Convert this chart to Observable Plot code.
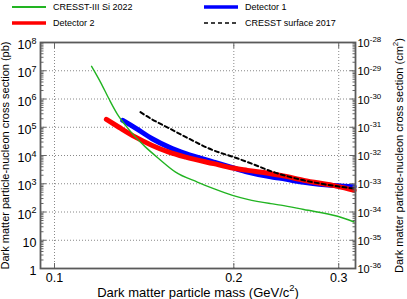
<!DOCTYPE html>
<html><head><meta charset="utf-8">
<script src="https://cdn.jsdelivr.net/npm/d3@7"></script>
<script src="https://cdn.jsdelivr.net/npm/@observablehq/plot@0.6"></script>
<style>
body{margin:0;background:#fff;font-family:"Liberation Sans",Arial,Helvetica,sans-serif;}
#legend{position:relative;width:407px;height:34px;font-size:9px;color:#000;}
.item{position:absolute;display:flex;align-items:center;height:12px;line-height:12px;white-space:nowrap;}
.item svg{display:block;}
#chart svg{display:block;}
</style></head><body>
<div id="legend"></div>
<div id="chart"></div>
<script>
// ---- data ----
const massGreen = [0.1154, 0.1195, 0.1234, 0.1274, 0.1316, 0.1368, 0.1422, 0.1497, 0.1597, 0.1737, 0.185, 0.199, 0.2109, 0.2307, 0.2398, 0.2621, 0.2987, 0.3184];
const xsecGreen = [1.44e7, 3.9e6, 1.02e6, 3.0e5, 1.16e5, 4.47e4, 1.98e4, 7.7e3, 2.59e3, 1.15e3, 671, 389, 281, 198, 175, 122, 70.5, 44.3];

const massDet1 = [0.1302, 0.1368, 0.1459, 0.1556, 0.1661, 0.185, 0.199, 0.2109, 0.2307, 0.2398, 0.2621, 0.2987, 0.3184];
const xsecDet1 = [1.74e5, 9.3e4, 3.93e4, 1.98e4, 1.16e4, 5.85e3, 3.7e3, 2.59e3, 1.75e3, 1.55e3, 1.12e3, 843, 777];

const massDet2 = [0.1222, 0.1283, 0.1368, 0.1459, 0.1556, 0.1661, 0.185, 0.199, 0.2109, 0.2307, 0.2398, 0.2621, 0.2987, 0.3184];
const xsecDet2 = [1.89e5, 1.0e5, 4.47e4, 2.27e4, 1.32e4, 8.77e3, 5.13e3, 3.59e3, 2.97e3, 2.27e3, 1.98e3, 1.32e3, 809, 584];

const massSurf = [0.1394, 0.1459, 0.1556, 0.165, 0.185, 0.2, 0.2109, 0.2352, 0.2621, 0.2987, 0.3184];
const xsecSurf = [3.42e5, 1.89e5, 9.3e4, 4.85e4, 1.51e4, 8.77e3, 5.85e3, 2.43e3, 1.32e3, 809, 671];

const seriesNames = ["CRESST-III Si 2022", "Detector 1", "Detector 2", "CRESST surface 2017"];
const xTicks = [0.1, 0.2, 0.3];
const yMajor = [1, 10, 100, 1e3, 1e4, 1e5, 1e6, 1e7, 1e8];
const yMinor = [];
for (let d = 0; d < 8; d++) for (let k = 2; k <= 9; k++) yMinor.push(k * Math.pow(10, d));

const xTitle = "Dark matter particle mass (GeV/c^2)";
const yTitleLeft = "Dark matter particle-nucleon cross section (pb)";
const yTitleRight = "Dark matter particle-nucleon cross section (cm^2)";

// ---- styles ----
const styles = {
  "CRESST-III Si 2022": {stroke: "#22b422", width: 1.4, legendWidth: 1.8, dash: null},
  "Detector 1": {stroke: "#0000ff", width: 5, legendWidth: 3.6, dash: null},
  "Detector 2": {stroke: "#ff0000", width: 5, legendWidth: 3.6, dash: null},
  "CRESST surface 2017": {stroke: "#000000", width: 2, legendWidth: 1.6, dash: "4,3"}
};

const rows = (ms, ss) => ms.map((m, i) => ({m, s: ss[i]}));
const green = rows(massGreen, xsecGreen);
const det1 = rows(massDet1, xsecDet1);
const det2 = rows(massDet2, xsecDet2);
const surf = rows(massSurf, xsecSurf);

// ---- legend ----
const legendPos = {
  "CRESST-III Si 2022": [12, 1],
  "Detector 2": [12, 17],
  "Detector 1": [204, 1],
  "CRESST surface 2017": [204, 17]
};
const legend = document.getElementById("legend");
for (const name of seriesNames) {
  const st = styles[name];
  const [lx, ly] = legendPos[name];
  const item = document.createElement("div");
  item.className = "item";
  item.style.left = lx + "px";
  item.style.top = ly + "px";
  item.innerHTML = `<svg width="34" height="12"><line x1="0" x2="34" y1="6" y2="6" stroke="${st.stroke}" stroke-width="${st.legendWidth}" ${st.dash ? `stroke-dasharray="${st.dash}"` : ""}/></svg><span style="margin-left:7px">${name}</span>`;
  legend.appendChild(item);
}

// ---- chart ----
const fmtLeft = v => v === 1 ? "1" : v === 10 ? "10" : "10^" + Math.round(Math.log10(v));
const fmtRight = v => "10^-" + (36 - Math.round(Math.log10(v)));
const gridStyle = {stroke: "#888", strokeOpacity: 1, strokeWidth: 1, strokeDasharray: "1,2"};
const tickColor = "#666";
const lineOpts = name => ({x: "m", y: "s", stroke: styles[name].stroke, strokeWidth: styles[name].width,
  strokeDasharray: styles[name].dash ?? undefined, curve: "monotone-x"});

const chart = Plot.plot({
  width: 407,
  height: 265,
  marginLeft: 40,
  marginRight: 52,
  marginTop: 8,
  marginBottom: 31,
  style: {fontFamily: "Liberation Sans, Arial, Helvetica, sans-serif", fontSize: "12px", background: "#fff", color: "#000", overflow: "visible"},
  x: {type: "log", domain: [0.09473, 0.3201], label: null},
  y: {type: "log", domain: [1, 1e8], label: null},
  marks: [
    Plot.gridX(xTicks, gridStyle),
    Plot.gridY(yMajor, gridStyle),
    Plot.line(det1, lineOpts("Detector 1")),
    Plot.line(det2, lineOpts("Detector 2")),
    Plot.line(green, lineOpts("CRESST-III Si 2022")),
    Plot.line(surf, lineOpts("CRESST surface 2017")),
    // inward ticks
    Plot.axisY(yMinor, {anchor: "left", tickSize: -3.5, fill: "none", stroke: tickColor, label: null}),
    Plot.axisY(yMajor, {anchor: "left", tickSize: -6, fill: "none", stroke: tickColor, label: null}),
    Plot.axisY(yMinor, {anchor: "right", tickSize: -3.5, fill: "none", stroke: tickColor, label: null}),
    Plot.axisY(yMajor, {anchor: "right", tickSize: -6, fill: "none", stroke: tickColor, label: null}),
    Plot.axisX(xTicks, {anchor: "bottom", tickSize: -5, fill: "none", stroke: tickColor, label: null}),
    Plot.axisX(xTicks, {anchor: "top", tickSize: -5, fill: "none", stroke: tickColor, label: null}),
    Plot.frame({stroke: "#5a5a5a", strokeWidth: 1.8}),
    // tick labels
    Plot.axisY(yMajor, {anchor: "left", tickSize: 0, tickPadding: 4, tickFormat: fmtLeft, fontSize: 12.5, dy: 2.5, label: null}),
    Plot.axisY(yMajor, {anchor: "right", tickSize: 0, tickPadding: 2, tickFormat: fmtRight, fontSize: 11, dy: 1, label: null}),
    Plot.axisX(xTicks, {anchor: "bottom", tickSize: 0, tickPadding: 5, tickFormat: d => String(d), fontSize: 12.5, label: null}),
    // titles
    Plot.text([xTitle], {text: d => d, frameAnchor: "bottom", textAnchor: "middle", lineAnchor: "bottom", dy: 28, fontSize: 13}),
    Plot.text([yTitleLeft], {text: d => d, frameAnchor: "left", textAnchor: "middle", lineAnchor: "middle", rotate: -90, dx: -35, fontSize: 11}),
    Plot.text([yTitleRight], {text: d => d, frameAnchor: "right", textAnchor: "middle", lineAnchor: "middle", rotate: -90, dx: 44, fontSize: 11})
  ]
});
document.getElementById("chart").appendChild(chart);

// ---- superscripts: turn "a^b c" into tspans ----
const NS = "http://www.w3.org/2000/svg";
for (const t of chart.querySelectorAll("text")) {
  const s = t.textContent;
  if (!s.includes("^")) continue;
  const fs = parseFloat(getComputedStyle(t).fontSize) || 12;
  const shift = fs * 0.42;
  const parts = s.split(/\^(-?\d+)/);
  t.textContent = "";
  parts.forEach((p, i) => {
    if (p === "") return;
    const ts = document.createElementNS(NS, "tspan");
    ts.textContent = p;
    if (i % 2 === 1) {
      ts.setAttribute("font-size", (fs * 0.72).toFixed(2));
      ts.setAttribute("dy", (-shift).toFixed(2));
    } else if (i > 0) {
      ts.setAttribute("dy", shift.toFixed(2));
    }
    t.appendChild(ts);
  });
}
</script>
</body></html>
